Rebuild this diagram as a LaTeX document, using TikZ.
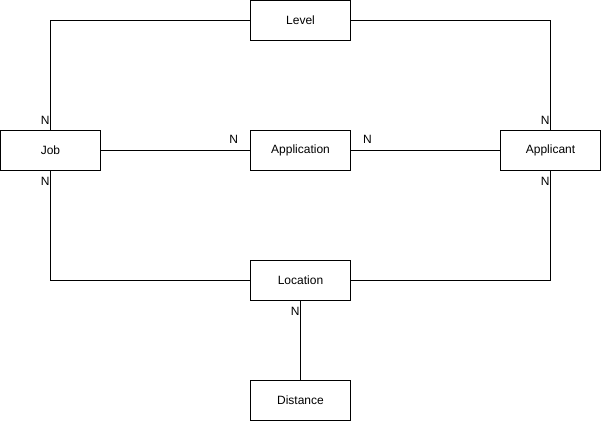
\documentclass[tikz,border=0pt]{standalone}
\usepackage{fontspec}
\setmainfont{Liberation Sans}
\begin{document}
\begin{tikzpicture}
		[x=1pt,y=1pt,
		entity/.style={rectangle,draw=black,line width=1pt,
inner sep=0pt,minimum width=100pt,minimum height=40pt,font=\fontsize{12}{14}\selectfont},
		card/.style={inner sep=0.5pt,font=\fontsize{12}{14}\selectfont},
		link/.style={-,line width=1pt}]
		\useasboundingbox (0,0) rectangle (601,421);
		\node at (300.5, 400.5) (level) [entity] {Level};
		\node at (50.5, 270.5) (job) [entity] {Job};
		\node at (300.5, 270.5) (application) [entity] {Application};
		\node at (550.5, 270.5) (applicant) [entity] {Applicant};
		\node at (300.5, 140.5) (location) [entity] {Location};
		\node at (300.5, 20.5) (distance) [entity] {Distance};
		\draw[link] (level.west) -| (job.north)
			node[card,pos=1,anchor=south east,yshift=5pt] {N};
		\draw[link] (level.east) -| (applicant.north)
			node[card,pos=1,anchor=south east,yshift=5pt] {N};
		\draw[link] (job.east) -- (application.west)
			node[card,pos=1,anchor=south east,xshift=-11pt,yshift=6pt] {N};
		\draw[link] (application.east) -- (applicant.west)
			node[card,pos=0,anchor=south west,xshift=11pt,yshift=6pt] {N};
		\draw[link] (job.south) |- (location.west)
			node[card,pos=0,anchor=north east,yshift=-5pt] {N};
		\draw[link] (applicant.south) |- (location.east)
			node[card,pos=0,anchor=north east,yshift=-5pt] {N};
		\draw[link] (location.south) -- (distance.north)
			node[card,pos=0,anchor=north east,yshift=-5pt] {N};
	\end{tikzpicture}
\end{document}
